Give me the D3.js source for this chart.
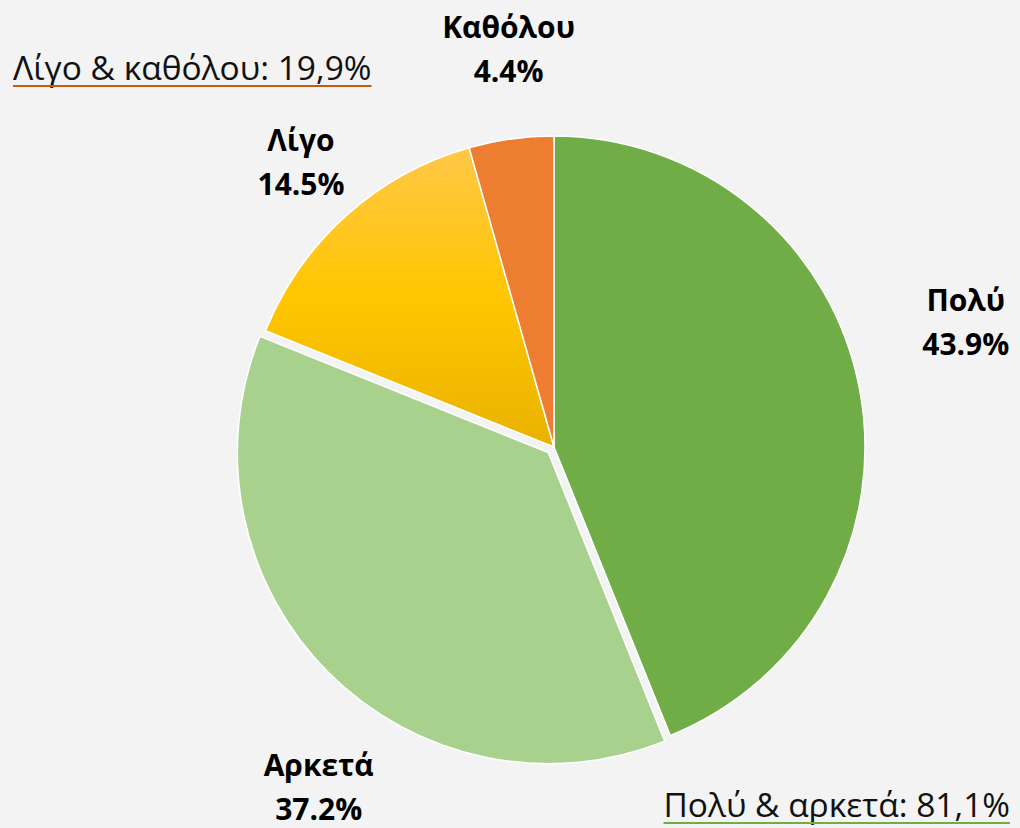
<!DOCTYPE html>
<html>
<head>
<meta charset="utf-8">
<script src="https://cdn.jsdelivr.net/npm/d3@7"></script>
<style>
  html, body { margin: 0; padding: 0; background: #f3f3f3; }
  svg { display: block; font-family: "Open Sans", "Noto Sans", sans-serif; }
</style>
</head>
<body>
<script>
// data
var categories = ["Πολύ", "Αρκετά", "Λίγο", "Καθόλου"];
var values = [43.9, 37.2, 14.5, 4.4];
var colors = ["#70ad47", "#a9d18e", "url(#goldGrad)", "#ed7d31"];
var exploded = [0, 8, 0, 0];
var summaryTexts = ["Λίγο & καθόλου: 19,9%", "Πολύ & αρκετά: 81,1%"];
var summaryColors = ["#c55a11", "#70ad47"];

var width = 1020,
    height = 828;
var cx = 554, cy = 447, radius = 311;
var labelRadius = 395;
// small nudges so labels sit where the original data labels are
var labelNudge = [[24, -49], [44, 62], [11, 10], [9, -6]];

var svg = d3.select("body").append("svg")
  .attr("width", width)
  .attr("height", height);

svg.append("rect")
  .attr("width", width)
  .attr("height", height)
  .attr("fill", "#f3f3f3");

// gradient for the "Λίγο" slice (in the slice group's own coordinates)
var defs = svg.append("defs");
var grad = defs.append("linearGradient")
  .attr("id", "goldGrad")
  .attr("gradientUnits", "userSpaceOnUse")
  .attr("x1", 0).attr("y1", -radius * 0.95)
  .attr("x2", 0).attr("y2", 0);
grad.append("stop").attr("offset", "0%").attr("stop-color", "#ffc746");
grad.append("stop").attr("offset", "50%").attr("stop-color", "#ffc600");
grad.append("stop").attr("offset", "100%").attr("stop-color", "#e9b200");

var pie = d3.pie().sort(null).value(function(d) { return d; });
var arcs = pie(values);

var arc = d3.arc().innerRadius(0).outerRadius(radius);
var labelArc = d3.arc().innerRadius(labelRadius).outerRadius(labelRadius);

var g = svg.append("g")
  .attr("transform", "translate(" + cx + "," + cy + ")");

g.selectAll("path.slice")
  .data(arcs)
  .enter().append("path")
  .attr("class", "slice")
  .attr("d", arc)
  .attr("transform", function(d, i) {
    var mid = (d.startAngle + d.endAngle) / 2;
    var dx = Math.sin(mid) * exploded[i];
    var dy = -Math.cos(mid) * exploded[i];
    return "translate(" + dx + "," + dy + ")";
  })
  .attr("fill", function(d, i) { return colors[i]; })
  .attr("stroke", "#ffffff")
  .attr("stroke-width", 1.5);

// data labels
var labels = g.selectAll("text.lbl")
  .data(arcs)
  .enter().append("text")
  .attr("class", "lbl")
  .attr("text-anchor", "middle")
  .attr("font-weight", "bold")
  .attr("font-size", 30)
  .attr("fill", "#000")
  .attr("transform", function(d, i) {
    var c = labelArc.centroid(d);
    return "translate(" + (c[0] + labelNudge[i][0]) + "," + (c[1] + labelNudge[i][1]) + ")";
  });

labels.append("tspan")
  .attr("x", 0)
  .attr("y", -12)
  .text(function(d, i) { return categories[i]; });
labels.append("tspan")
  .attr("x", 0)
  .attr("y", 32)
  .text(function(d, i) { return values[i].toFixed(1) + "%"; });

// summary notes with underline
var notes = [
  { x: 13, y: 80, anchor: "start" },
  { x: 1010, y: 817, anchor: "end" }
];
notes.forEach(function(n, i) {
  var t = svg.append("text")
    .attr("x", n.x)
    .attr("y", n.y)
    .attr("text-anchor", n.anchor)
    .attr("font-size", 33.5)
    .attr("fill", "#111")
    .text(summaryTexts[i]);
  var bb = t.node().getBBox();
  svg.append("line")
    .attr("x1", bb.x)
    .attr("x2", bb.x + bb.width)
    .attr("y1", n.y + 6)
    .attr("y2", n.y + 6)
    .attr("stroke", summaryColors[i])
    .attr("stroke-width", 2);
});
</script>
</body>
</html>
